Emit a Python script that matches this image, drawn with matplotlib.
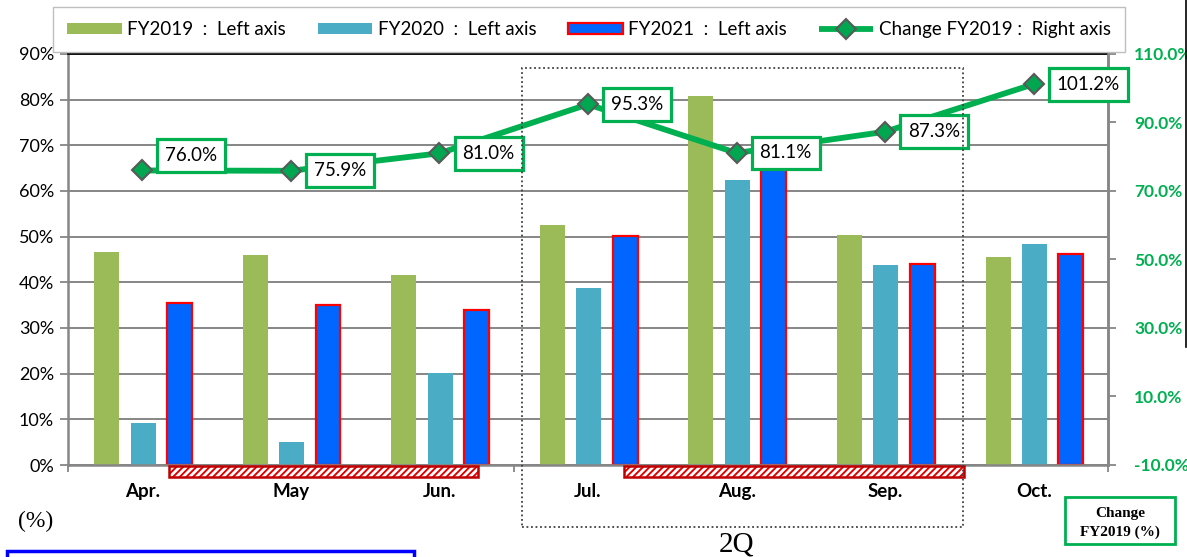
import matplotlib
matplotlib.use("Agg")
import matplotlib.pyplot as plt
import matplotlib.transforms as mtransforms
from matplotlib.patches import Rectangle
from matplotlib.lines import Line2D
import numpy as np

# ---------------- data ----------------
months = ["Apr.", "May", "Jun.", "Jul.", "Aug.", "Sep.", "Oct."]
fy2019 = [46.6, 46.0, 41.7, 52.5, 80.7, 50.3, 45.6]
fy2020 = [9.3, 5.0, 20.1, 38.7, 62.4, 43.8, 48.4]
fy2021 = [35.5, 35.0, 33.9, 50.2, 66.0, 44.1, 46.3]
change_vs_fy2019 = [76.0, 75.9, 81.0, 95.3, 81.1, 87.3, 101.2]
left_ticks = list(range(0, 100, 10))
right_ticks = list(range(-10, 111, 20))
emergency_periods = [(0.18, 2.26), (3.24, 5.53)]
series_names = ["FY2019  :  Left axis", "FY2020  :  Left axis",
                "FY2021  :  Left axis", "Change FY2019 :  Right axis"]

plt.rcParams["font.family"] = ["Lato", "DejaVu Sans"]
plt.rcParams["hatch.linewidth"] = 2.0

W, H = 1187, 557
fig = plt.figure(figsize=(W / 100, H / 100), dpi=100)
fig.patch.set_facecolor("white")

def px(x0, y0):
    return x0 / W, 1 - y0 / H

L, R, T, B = 68, 1108, 54, 465
ax = fig.add_axes([L / W, 1 - B / H, (R - L) / W, (B - T) / H])
x = np.arange(len(months))
bw = 0.168
grey = "#868686"

b1 = ax.bar(x - 0.24, fy2019, bw, color="#9BBB59", zorder=2)
b2 = ax.bar(x + 0.005, fy2020, bw, color="#4BACC6", zorder=2)
b3 = ax.bar(x + 0.25, fy2021, bw, color="#0066FF", edgecolor="#FF0000",
            linewidth=1.6, zorder=2)

ax.set_xlim(-0.5, len(months) - 0.5)
ax.set_ylim(0, 90)
ax.set_yticks(left_ticks)
ax.set_yticklabels([f"{v}%" for v in left_ticks], fontsize=13)
ax.yaxis.grid(True, color=grey, lw=1.4)
ax.set_axisbelow(True)
ax.set_xticks(x)
ax.set_xticklabels(months, fontsize=13.5, fontweight="bold")
ax.set_xticks(np.arange(-0.5, len(months), 1.0), minor=True)
ax.tick_params(axis="x", which="major", length=0, pad=13)
ax.tick_params(axis="x", which="minor", length=5, width=1.3, color=grey, direction="out")
ax.tick_params(axis="y", length=6, width=1.3, color=grey, direction="out", pad=4)
for s in ["left", "bottom", "right"]:
    ax.spines[s].set_color(grey)
    ax.spines[s].set_linewidth(1.8)
ax.spines["top"].set_color("#111111")
ax.spines["top"].set_linewidth(1.4)

# right axis
ax2 = ax.twinx()
ax2.set_ylim(-10, 110)
ax2.set_yticks(right_ticks)
ax2.set_yticklabels([f"{v:.1f}%" for v in right_ticks], fontsize=12.5,
                    fontweight="bold", color="#00B050")
ax2.tick_params(axis="y", length=6, width=1.3, color=grey, direction="out", pad=13)
for s in ["left", "bottom", "top"]:
    ax2.spines[s].set_visible(False)
ax2.spines["right"].set_color(grey)
ax2.spines["right"].set_linewidth(1.8)

ln, = ax2.plot(x, change_vs_fy2019, color="#00B050", lw=4.2, marker="D",
               markersize=10, markerfacecolor="#00A650", markeredgecolor="#595959",
               markeredgewidth=1.5, zorder=3, solid_capstyle="butt")

label_dy = [15, 0, 0, 0, 0, 0, 0]
for xi, v, dy in zip(x, change_vs_fy2019, label_dy):
    ax2.annotate(f"{v:.1f}%", (xi, v), xytext=(23 * 0.72, dy * 0.72),
                 textcoords="offset points", ha="left", va="center",
                 fontsize=13.5, color="black", zorder=5,
                 bbox=dict(boxstyle="square,pad=0.42", fc="white",
                           ec="#00B050", lw=2.3))

# hatched period bars below x axis
tr = mtransforms.blended_transform_factory(ax.transData, ax.transAxes)
for x0, x1 in emergency_periods:
    r1 = Rectangle((x0, -0.029), x1 - x0, 0.026, transform=tr, clip_on=False,
                   facecolor="#E00000", edgecolor="white", hatch="/////",
                   linewidth=0, zorder=4)
    r2 = Rectangle((x0, -0.029), x1 - x0, 0.026, transform=tr, clip_on=False,
                   facecolor="none", edgecolor="#C00000", linewidth=1.8, zorder=5)
    ax.add_patch(r1)
    ax.add_patch(r2)

# legend
fig.legend([b1, b2, b3, ln], series_names, loc="upper center",
           bbox_to_anchor=(589 / W, 1 - 7 / H), borderaxespad=0, ncol=4,
           fontsize=13.5, frameon=True, fancybox=False, edgecolor="#BFBFBF",
           handlelength=2.9, handleheight=0.6, handletextpad=0.3,
           columnspacing=1.7, borderpad=0.75, framealpha=1)

# 2Q dotted box
x0f, y0f = px(522, 527)
x1f, y1f = px(963, 68)
fig.add_artist(Rectangle((x0f, y0f), x1f - x0f, y1f - y0f, transform=fig.transFigure,
                         fill=False, edgecolor="#404040", linestyle=(0, (1, 1.5)),
                         linewidth=1.3, zorder=10))
fig.text(*px(737, 545), "2Q", fontsize=21, family="Liberation Serif",
         ha="center", va="center")

fig.text(*px(36, 521), "(%)", fontsize=17, family="Liberation Serif",
         ha="center", va="center")

# "Change FY2019 (%)" box
bx0, by0 = px(1065, 544)
bx1, by1 = px(1175, 497)
fig.add_artist(Rectangle((bx0, by0), bx1 - bx0, by1 - by0, transform=fig.transFigure,
                         fill=False, edgecolor="#00B050", linewidth=2.0, zorder=10))
fig.text(*px(1120, 513), "Change", fontsize=11, family="Liberation Serif",
         fontweight="bold", ha="center", va="center")
fig.text(*px(1120, 532), "FY2019 (%)", fontsize=11, family="Liberation Serif",
         fontweight="bold", ha="center", va="center")

# slide decorations
fig.add_artist(Line2D([1186 / W, 1186 / W], [1, 1 - 347 / H], transform=fig.transFigure,
                      color="black", lw=1.2))
qx0, qy0 = px(7, 575)
qx1, qy1 = px(414, 551)
fig.add_artist(Rectangle((qx0, qy0), qx1 - qx0, qy1 - qy0, transform=fig.transFigure,
                         fill=False, edgecolor="#0000FF", linewidth=2.5))

fig.savefig("out.png", dpi=100)
